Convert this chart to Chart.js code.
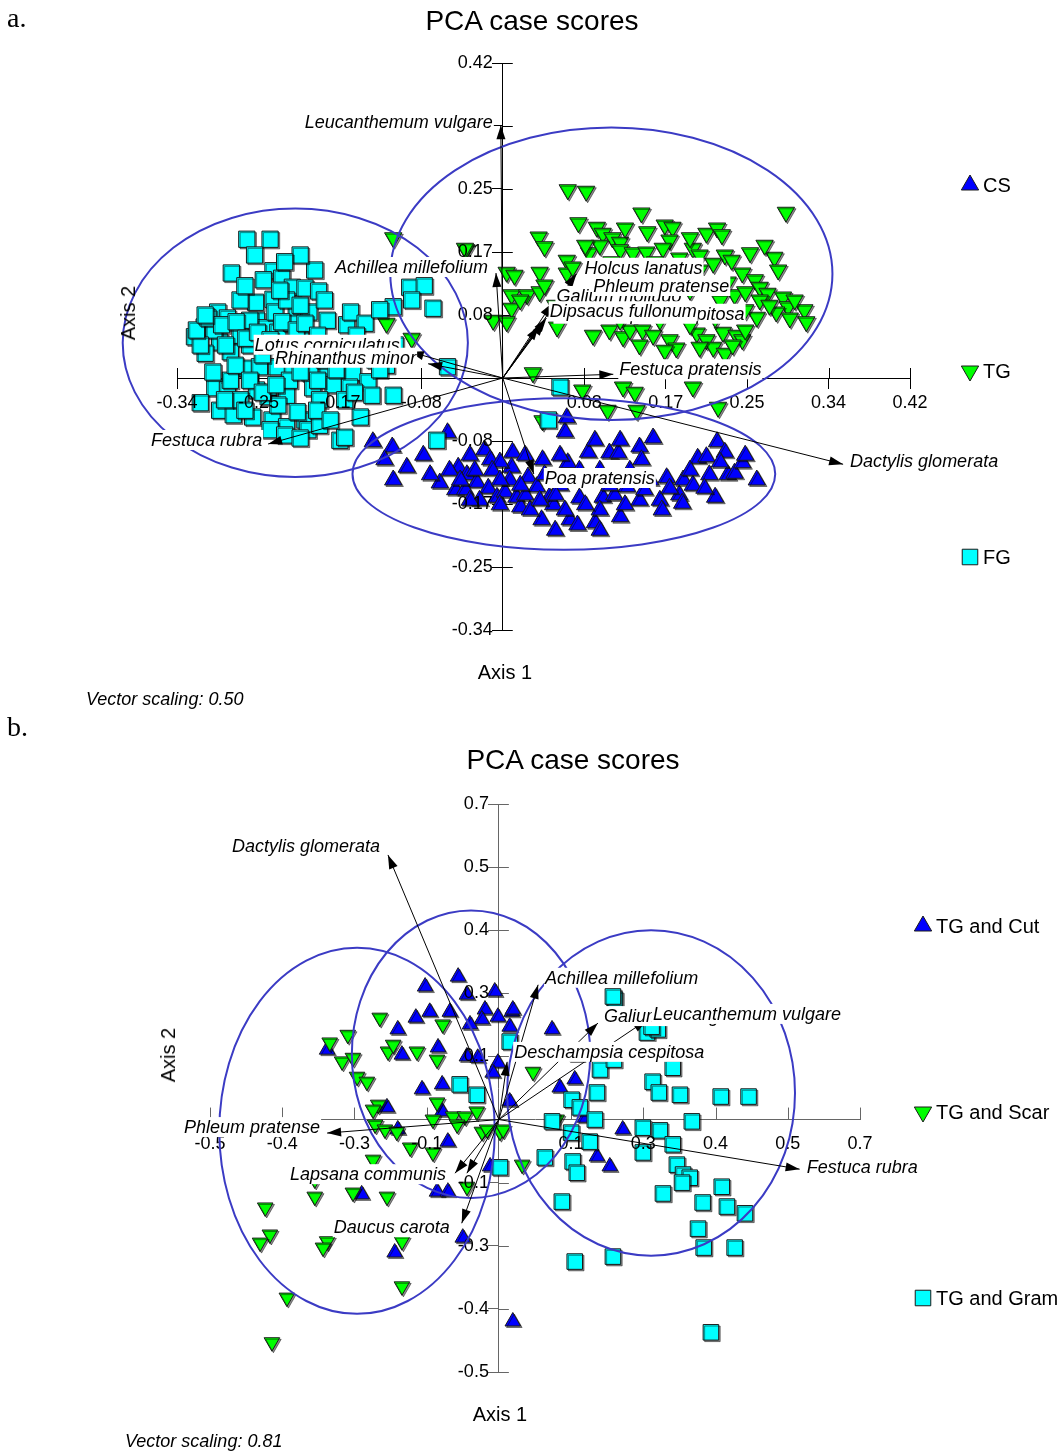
<!DOCTYPE html>
<html>
<head>
<meta charset="utf-8">
<script src="https://cdn.jsdelivr.net/npm/chart.js@4.4.1/dist/chart.umd.min.js"></script>
<style>
  html, body { margin: 0; padding: 0; background: #fff; }
  body { position: relative; width: 1064px; height: 1455px; overflow: hidden; font-family: "Liberation Sans", Arial, sans-serif; color: #000; }
  canvas { position: absolute; left: 0; }
  .txt { position: absolute; white-space: nowrap; line-height: 1; }
  .panel { font-family: "Liberation Serif", "Times New Roman", serif; font-size: 28px; }
  .title { font-size: 28px; text-align: center; }
  .axis { font-size: 20px; }
  .note { font-size: 18px; font-style: italic; }
  .rot { transform: translate(-50%, -50%) rotate(-90deg); }
</style>
</head>
<body>
<canvas id="pcaA" width="1064" height="728" style="top:0"></canvas>
<canvas id="pcaB" width="1064" height="727" style="top:728px"></canvas>

<div class="txt panel" style="left:7px; top:4px;">a.</div>
<div class="txt title" style="left:0; width:1064px; top:7px;">PCA case scores</div>
<div class="txt axis" style="left:455px; width:100px; text-align:center; top:662px;">Axis 1</div>
<div class="txt axis rot" style="left:128px; top:313px;">Axis 2</div>
<div class="txt note" style="left:86px; top:690px;">Vector scaling: 0.50</div>

<div class="txt panel" style="left:7px; top:713px;">b.</div>
<div class="txt title" style="left:373px; width:400px; top:746px;">PCA case scores</div>
<div class="txt axis" style="left:450px; width:100px; text-align:center; top:1404px;">Axis 1</div>
<div class="txt axis rot" style="left:168px; top:1055px;">Axis 2</div>
<div class="txt note" style="left:125px; top:1432px;">Vector scaling: 0.81</div>

<script>
// ---------- Panel a: grassland groups CS / TG / FG ----------
const groupsA = ['CS', 'TG', 'FG'];
const ticksA = [-0.336, -0.252, -0.168, -0.084, 0.084, 0.168, 0.252, 0.336, 0.42];
const tickLabelsA = ['-0.34', '-0.25', '-0.17', '-0.08', '0.08', '0.17', '0.25', '0.34', '0.42'];

const csA = [[-0.134,-0.085],[-0.114,-0.092],[-0.122,-0.109],[-0.099,-0.119],[-0.113,-0.136],[-0.082,-0.103],[-0.065,-0.140],[-0.057,-0.073],[-0.019,-0.096],[-0.013,-0.109],[-0.046,-0.119],[-0.037,-0.129],[-0.027,-0.139],[-0.015,-0.147],[-0.006,-0.159],[0.002,-0.152],[0.010,-0.099],[0.009,-0.119],[0.014,-0.159],[0.018,-0.172],[0.026,-0.132],[0.035,-0.145],[0.041,-0.109],[0.040,-0.189],[0.048,-0.159],[0.052,-0.169],[0.064,-0.072],[0.067,-0.113],[0.069,-0.189],[0.077,-0.196],[0.079,-0.160],[0.088,-0.099],[0.095,-0.193],[0.103,-0.159],[0.110,-0.100],[0.119,-0.100],[0.121,-0.185],[0.128,-0.145],[0.141,-0.092],[0.143,-0.109],[0.155,-0.080],[0.141,-0.163],[0.162,-0.163],[0.164,-0.176],[0.169,-0.133],[0.182,-0.156],[0.185,-0.167],[0.186,-0.136],[0.196,-0.143],[0.201,-0.107],[0.210,-0.105],[0.221,-0.085],[0.229,-0.099],[0.232,-0.129],[0.239,-0.127],[0.247,-0.113],[0.250,-0.103],[0.262,-0.136],[0.219,-0.159],[-0.034,-0.103],[-0.003,-0.112],[-0.024,-0.163],[-0.049,-0.149],[-0.075,-0.129],[-0.039,-0.149],[0.028,-0.176],[0.059,-0.143],[0.090,-0.136],[0.100,-0.123],[0.115,-0.156],[0.152,-0.136],[0.059,-0.103],[0.007,-0.136],[0.023,-0.156],[0.054,-0.203],[0.100,-0.176],[0.131,-0.123],[0.213,-0.129],[-0.003,-0.169],[-0.055,-0.123],[0.066,-0.053],[-0.029,-0.123],[0.038,-0.163],[-0.044,-0.136],[-0.034,-0.163],[-0.011,-0.123],[-0.003,-0.136],[0.018,-0.143],[0.043,-0.129],[0.054,-0.156],[0.064,-0.176],[0.085,-0.169],[0.110,-0.143],[0.126,-0.169],[0.146,-0.149],[0.172,-0.147],[0.193,-0.123],[0.208,-0.147],[0.224,-0.112],[0.079,-0.123],[0.095,-0.083],[0.121,-0.083],[0.023,-0.103],[0.100,-0.203]];

const tgA = [[0.067,0.251],[0.086,0.249],[0.143,0.220],[0.292,0.221],[0.078,0.207],[0.097,0.201],[0.103,0.193],[0.113,0.187],[0.121,0.181],[0.149,0.195],[0.167,0.204],[0.175,0.201],[0.172,0.184],[0.165,0.173],[0.037,0.188],[0.043,0.175],[-0.113,0.187],[-0.038,0.171],[0.004,0.141],[0.038,0.141],[0.066,0.157],[0.089,0.167],[0.121,0.171],[0.134,0.167],[0.148,0.168],[0.196,0.173],[0.210,0.193],[0.221,0.200],[0.226,0.191],[0.255,0.167],[0.280,0.161],[0.229,0.164],[0.236,0.157],[0.217,0.153],[0.247,0.140],[0.260,0.131],[0.265,0.121],[0.273,0.113],[0.284,0.144],[0.289,0.108],[0.294,0.095],[0.311,0.091],[0.313,0.075],[0.282,0.088],[0.262,0.081],[0.250,0.091],[0.066,0.140],[0.072,0.148],[0.009,0.111],[0.025,0.111],[0.038,0.115],[0.009,0.093],[-0.010,0.077],[0.004,0.075],[0.056,0.068],[0.093,0.057],[0.110,0.064],[0.124,0.055],[0.131,0.064],[0.144,0.064],[0.155,0.057],[0.172,0.051],[0.179,0.040],[0.200,0.060],[0.210,0.051],[0.217,0.041],[0.227,0.061],[0.241,0.057],[0.247,0.051],[0.229,0.033],[0.203,0.041],[0.031,0.007],[0.082,-0.016],[0.124,-0.012],[0.136,-0.019],[0.196,-0.012],[0.108,-0.043],[0.138,-0.043],[0.222,-0.039],[-0.120,0.073],[-0.094,0.053],[-0.039,0.173],[0.041,-0.057],[0.193,0.187],[0.203,0.164],[0.239,0.111],[0.224,0.104],[0.265,0.104],[0.193,0.071],[0.162,0.077],[0.121,0.077],[0.100,0.091],[0.152,0.104],[0.193,0.117],[0.270,0.177],[0.296,0.080],[0.237,0.044],[0.219,0.080],[0.054,0.097],[0.043,0.124],[0.100,0.177],[0.112,0.155],[0.157,0.155],[0.182,0.160],[0.203,0.144],[0.232,0.128],[0.250,0.115],[0.275,0.097],[0.301,0.104],[0.141,0.044],[0.167,0.037],[0.250,0.064],[0.018,0.104],[0.012,0.137],[0.126,0.200],[0.085,0.177]];

const fgA = [[-0.264,0.185],[-0.240,0.185],[-0.256,0.164],[-0.280,0.140],[-0.237,0.143],[-0.194,0.144],[-0.247,0.131],[-0.228,0.133],[-0.217,0.121],[-0.204,0.120],[-0.190,0.116],[-0.255,0.101],[-0.237,0.105],[-0.213,0.093],[-0.200,0.088],[-0.294,0.088],[-0.284,0.080],[-0.308,0.068],[-0.318,0.055],[-0.292,0.048],[-0.307,0.033],[-0.281,0.035],[-0.254,0.077],[-0.245,0.067],[-0.232,0.061],[-0.218,0.073],[-0.181,0.077],[-0.161,0.071],[-0.157,0.088],[-0.142,0.073],[-0.096,0.121],[-0.081,0.123],[-0.094,0.104],[-0.113,0.095],[-0.072,0.093],[-0.120,0.017],[-0.057,0.015],[-0.264,0.013],[-0.251,0.015],[-0.233,0.015],[-0.217,0.011],[-0.199,0.007],[-0.181,0.007],[-0.168,0.008],[-0.155,0.007],[-0.139,-0.005],[-0.297,-0.013],[-0.284,-0.016],[-0.254,-0.016],[-0.242,-0.025],[-0.223,-0.023],[-0.196,-0.013],[-0.175,-0.009],[-0.158,-0.012],[-0.113,-0.023],[-0.312,-0.033],[-0.292,-0.043],[-0.278,-0.049],[-0.258,-0.052],[-0.238,-0.056],[-0.223,-0.065],[-0.204,-0.056],[-0.201,-0.069],[-0.147,-0.052],[-0.168,-0.083],[-0.068,-0.083],[-0.298,0.064],[-0.271,0.057],[-0.261,0.044],[-0.248,0.031],[-0.225,0.037],[-0.209,0.051],[-0.199,0.031],[-0.178,0.044],[-0.235,0.088],[-0.271,0.104],[-0.286,0.044],[-0.209,0.164],[-0.225,0.155],[-0.147,0.044],[-0.132,0.024],[-0.111,0.044],[-0.189,-0.029],[-0.271,-0.029],[-0.212,-0.045],[-0.232,-0.036],[-0.240,-0.069],[-0.189,-0.063],[-0.163,-0.029],[-0.281,-0.003],[-0.312,0.044],[-0.245,0.044],[-0.168,0.028],[-0.127,0.011],[-0.220,-0.003],[-0.184,0.024],[-0.261,0.077],[-0.223,0.104],[-0.163,-0.079],[0.059,-0.012],[0.047,-0.056],[-0.316,0.064],[-0.304,0.080],[-0.290,0.071],[-0.275,0.075],[-0.265,0.053],[-0.253,0.061],[-0.240,0.051],[-0.228,0.075],[-0.213,0.064],[-0.204,0.073],[-0.191,0.057],[-0.276,0.017],[-0.261,-0.003],[-0.248,-0.019],[-0.234,-0.009],[-0.209,0.008],[-0.191,-0.003],[-0.172,0.011],[-0.153,-0.019],[-0.135,-0.023],[-0.299,0.008],[-0.287,-0.029],[-0.266,-0.043],[-0.225,-0.076],[-0.209,-0.080],[-0.192,-0.043],[-0.178,-0.056],[-0.307,0.084],[-0.209,0.097],[-0.230,0.117],[-0.266,0.123],[-0.184,0.104],[-0.151,0.057],[-0.127,0.091]];

// group ellipses: centre and semi-axes in score units (CS, TG, FG)
const ellipseCentresA = [[0.063, -0.128], [0.112, 0.139], [-0.214, 0.047]];
const ellipseRadiiA = [[0.218, 0.101], [0.228, 0.195], [0.178, 0.179]];

// species vectors (biplot loadings after scaling)
const speciesA = ['Leucanthemum vulgare', 'Achillea millefolium', 'Deschampsia cespitosa', 'Galium mollugo', 'Phleum pratense', 'Dipsacus fullonum', 'Holcus lanatus', 'Festuca pratensis', 'Dactylis glomerata', 'Poa pratensis', 'Festuca rubra', 'Lotus corniculatus', 'Rhinanthus minor'];
const loadingsA = [[-0.002, 0.337], [-0.007, 0.140], [0.043, 0.075], [0.045, 0.080], [0.051, 0.100], [0.037, 0.069], [0.076, 0.139], [0.114, 0.005], [0.351, -0.115], [0.032, -0.128], [-0.242, -0.088], [-0.096, 0.035], [-0.077, 0.019]];

// ---------- Panel b: TG treatments ----------
const groupsB = ['TG and Cut', 'TG and Scar', 'TG and Gram'];
const ticksB = [-0.56, -0.42, -0.28, -0.14, 0.14, 0.28, 0.42, 0.56, 0.7];
const tickLabelsB = ['-0.5', '-0.4', '-0.3', '-0.1', '0.1', '0.3', '0.4', '0.5', '0.7'];

const cutB = [[-0.079,0.317],[-0.143,0.295],[-0.062,0.277],[-0.008,0.284],[-0.027,0.244],[-0.033,0.222],[-0.002,0.228],[0.025,0.239],[-0.161,0.226],[-0.134,0.239],[-0.095,0.239],[-0.196,0.200],[-0.188,0.144],[-0.118,0.160],[-0.062,0.140],[-0.041,0.137],[-0.002,0.126],[-0.149,0.067],[-0.110,0.078],[-0.217,0.027],[-0.196,-0.022],[-0.099,-0.049],[-0.110,0.018],[-0.017,-0.104],[-0.120,-0.160],[-0.099,-0.160],[-0.266,-0.166],[-0.202,-0.295],[-0.070,-0.262],[0.027,-0.448],[-0.333,0.155],[0.027,0.244],[0.021,0.206],[0.103,0.200],[0.151,0.140],[0.118,0.071],[0.147,0.089],[0.021,0.040],[0.190,-0.082],[0.215,-0.104],[0.240,-0.022],[0.167,0.004],[-0.012,0.104],[-0.056,0.211]];

const scarB = [[-0.231,0.226],[-0.293,0.188],[-0.328,0.171],[-0.304,0.129],[-0.283,0.137],[-0.275,0.095],[-0.256,0.084],[-0.215,0.151],[-0.159,0.151],[-0.205,0.166],[-0.109,0.211],[-0.120,0.133],[-0.234,0.033],[-0.244,0.022],[-0.240,-0.011],[-0.221,-0.022],[-0.172,-0.062],[-0.128,0.000],[-0.120,0.038],[-0.089,0.007],[-0.066,0.007],[-0.043,0.018],[-0.081,-0.011],[-0.033,-0.027],[0.002,-0.027],[-0.128,-0.073],[-0.244,-0.089],[-0.357,-0.133],[-0.357,-0.171],[-0.283,-0.162],[-0.217,-0.171],[-0.453,-0.195],[-0.444,-0.255],[-0.463,-0.273],[-0.333,-0.270],[-0.341,-0.284],[-0.188,-0.270],[-0.188,-0.370],[-0.411,-0.395],[-0.440,-0.494],[-0.062,-0.149],[0.066,0.106],[0.045,-0.100],[0.008,-0.022],[-0.023,-0.022],[-0.198,-0.027],[0.112,0.000]];

const gramB = [[0.225,0.266],[0.287,0.193],[0.308,0.200],[0.337,0.115],[0.196,0.111],[0.298,0.084],[0.310,0.060],[0.351,0.055],[0.430,0.051],[0.484,0.051],[0.190,0.060],[0.141,0.044],[0.157,0.027],[0.103,-0.004],[0.186,0.000],[0.279,-0.018],[0.312,-0.024],[0.374,-0.004],[0.140,-0.029],[0.176,-0.049],[0.337,-0.055],[0.279,-0.073],[0.089,-0.084],[0.143,-0.093],[0.151,-0.118],[0.345,-0.100],[0.357,-0.122],[0.370,-0.129],[0.355,-0.140],[0.432,-0.149],[0.318,-0.164],[0.122,-0.182],[0.395,-0.184],[0.442,-0.193],[0.477,-0.208],[0.386,-0.242],[0.397,-0.284],[0.457,-0.284],[0.147,-0.315],[0.221,-0.304],[0.411,-0.472],[0.021,0.173],[0.002,-0.106],[-0.076,0.078],[-0.043,0.055],[0.221,0.273],[0.296,0.206],[0.223,0.133]];

// group ellipses (Cut, Scar, Gram)
const ellipseCentresB = [[-0.054, 0.145], [-0.275, -0.025], [0.295, 0.059]];
const ellipseRadiiB = [[0.231, 0.319], [0.267, 0.406], [0.279, 0.361]];

const speciesB = ['Dactylis glomerata', 'Achillea millefolium', 'Galium mollugo', 'Leucanthemum vulgare', 'Deschampsia cespitosa', 'Phleum pratense', 'Festuca rubra', '', 'Lapsana communis', 'Daucus carota'];
const loadingsB = [[-0.215, 0.587], [0.076, 0.299], [0.192, 0.214], [0.287, 0.221], [0.016, 0.128], [-0.333, -0.030], [0.583, -0.110], [-0.062, -0.119], [-0.085, -0.119], [-0.072, -0.230]];

// ---------- presentation ----------
const COLORS = { blue: '#0000ff', green: '#00ff00', cyan: '#00ffff', ring: '#3b3bc4' };
const FONT = '"Liberation Sans", Arial, sans-serif';

// label anchor relative to the arrow tip: [align, dx px, dy px]
const labelPlaceA = [['right', -8, -3], ['right', -8, -6], ['left', 10, -8], ['left', 10, -22], ['left', 41, -17], ['left', 11, -15], ['left', 8, -6], ['left', 6, -5], ['left', 7, -3], ['left', 11, 4], ['right', -6, -4], ['right', -10, -7], ['right', -12, -6]];
const labelPlaceB = [['right', -8, -9], ['left', 7, -7], ['left', 6, -7], ['left', 6, -6], ['left', 7, -10], ['right', -7, -6], ['left', 7, -2], ['left', 0, 0], ['right', -9, 1], ['right', -12, 4]];

// legend entries: marker centre in canvas px
const legendPlaceA = [[970, 185], [970, 371], [970, 557]];
const legendPlaceB = [[923, 198], [923, 384], [923, 570]];

function toXY(arr) { return arr.map(p => ({ x: p[0], y: p[1] })); }

function drawMarker(ctx, style, rotation, r, x, y, fill) {
  ctx.save();
  ctx.fillStyle = fill; ctx.strokeStyle = '#1a1a1a'; ctx.lineWidth = 1;
  Chart.helpers.drawPoint(ctx, { pointStyle: style, rotation: rotation, radius: r, borderWidth: 1 }, x, y);
  ctx.restore();
}

function arrow(ctx, x0, y0, x1, y1) {
  const len = 14, hw = 4.5;
  const a = Math.atan2(y1 - y0, x1 - x0);
  ctx.beginPath(); ctx.moveTo(x0, y0); ctx.lineTo(x1, y1); ctx.stroke();
  ctx.beginPath();
  ctx.moveTo(x1, y1);
  ctx.lineTo(x1 - len * Math.cos(a) + hw * Math.sin(a), y1 - len * Math.sin(a) - hw * Math.cos(a));
  ctx.lineTo(x1 - len * Math.cos(a) - hw * Math.sin(a), y1 - len * Math.sin(a) + hw * Math.cos(a));
  ctx.closePath(); ctx.fill();
}

function overlay(cfg) {
  return {
    id: 'pcaOverlay',
    beforeDatasetsDraw(chart) {
      const ctx = chart.ctx, sx = chart.scales.x, sy = chart.scales.y;
      const ox = sx.getPixelForValue(0), oy = sy.getPixelForValue(0);
      // inner halves of the tick marks, under the markers
      ctx.save();
      ctx.strokeStyle = cfg.axisColor; ctx.lineWidth = 1;
      ctx.beginPath();
      cfg.ticks.forEach(v => {
        const px = Math.round(sx.getPixelForValue(v)) + 0.5;
        ctx.moveTo(px, oy); ctx.lineTo(px, oy - cfg.innerTickX);
        const py = Math.round(sy.getPixelForValue(v)) + 0.5;
        ctx.moveTo(ox, py); ctx.lineTo(ox + cfg.innerTickY, py);
      });
      ctx.stroke();
      ctx.restore();
      // soft drop shadow under the case markers
      ctx.save();
      ctx.shadowColor = 'rgba(0,0,0,0.45)';
      ctx.shadowOffsetX = 1.5; ctx.shadowOffsetY = 1.5; ctx.shadowBlur = 0;
    },
    afterDatasetsDraw(chart) { chart.ctx.restore(); },
    afterDraw(chart) {
      const ctx = chart.ctx, sx = chart.scales.x, sy = chart.scales.y;
      const ox = sx.getPixelForValue(0), oy = sy.getPixelForValue(0);
      ctx.save();
      // group ellipses
      ctx.strokeStyle = COLORS.ring; ctx.lineWidth = 2;
      cfg.centres.forEach((c, i) => {
        const cx = sx.getPixelForValue(c[0]), cy = sy.getPixelForValue(c[1]);
        const rx = Math.abs(sx.getPixelForValue(c[0] + cfg.radii[i][0]) - cx);
        const ry = Math.abs(sy.getPixelForValue(c[1] + cfg.radii[i][1]) - cy);
        ctx.beginPath(); ctx.ellipse(cx, cy, rx, ry, 0, 0, Math.PI * 2); ctx.stroke();
      });
      // species vectors
      ctx.strokeStyle = '#000'; ctx.fillStyle = '#000'; ctx.lineWidth = 1;
      const tips = cfg.loadings.map(l => [sx.getPixelForValue(l[0]), sy.getPixelForValue(l[1])]);
      tips.forEach(t => arrow(ctx, ox, oy, t[0], t[1]));
      // species labels on white boxes
      ctx.font = 'italic 18px ' + FONT;
      ctx.textBaseline = 'middle';
      cfg.species.forEach((name, i) => {
        if (!name) return;
        const [align, dx, dy] = cfg.place[i];
        const w = ctx.measureText(name).width;
        let x = tips[i][0] + dx; const y = tips[i][1] + dy;
        if (align === 'right') x -= w;
        ctx.fillStyle = '#fff'; ctx.fillRect(x - 1, y - 10, w + 2, 20);
        ctx.fillStyle = '#000'; ctx.textAlign = 'left'; ctx.fillText(name, x, y + 1);
      });
      // legend
      ctx.font = '20px ' + FONT;
      chart.data.datasets.forEach((ds, i) => {
        const [lx, ly] = cfg.legend[i];
        drawMarker(ctx, ds.pointStyle, ds.pointRotation, cfg.legendRadius[i], lx, ly, ds.backgroundColor);
        ctx.fillStyle = '#000'; ctx.textAlign = 'left'; ctx.textBaseline = 'middle';
        ctx.fillText(ds.label, lx + 13, ly + 1);
      });
      ctx.restore();
    }
  };
}

// centred axis: line and tick marks under the markers, tick labels above them;
// y labels get a trailing gap so they clear the tick marks
function axisOpts(min, max, ticks, labels, pos, color, tickColor, pad, gap) {
  return {
    type: 'linear', min: min, max: max, position: pos,
    afterBuildTicks: s => { s.ticks = ticks.map(v => ({ value: v })); },
    ticks: { z: 1, autoSkip: false, maxRotation: 0, padding: pad, color: '#000', font: { family: FONT, size: 18 },
             callback: (v, i) => labels[i] + gap },
    grid: { z: -1, drawOnChartArea: false, drawTicks: true, tickLength: 10, color: color, tickColor: tickColor },
    border: { z: 0, display: true, color: color, width: 1 }
  };
}

function dataset(label, pts, style, rot, r, color, order) {
  return { label: label, data: toXY(pts), pointStyle: style, pointRotation: rot, pointRadius: r, pointHoverRadius: r,
           backgroundColor: color, borderColor: '#1a1a1a', borderWidth: 1, clip: false, order: order };
}

const common = { responsive: false, animation: false, events: [],
  plugins: { legend: { display: false }, tooltip: { enabled: false }, title: { display: false } } };

new Chart(document.getElementById('pcaA'), {
  type: 'scatter',
  data: { datasets: [
    dataset(groupsA[0], csA, 'triangle', 0, 10, COLORS.blue, 1),
    dataset(groupsA[1], tgA, 'triangle', 180, 10, COLORS.green, 2),
    dataset(groupsA[2], fgA, 'rect', 0, 11.5, COLORS.cyan, 0)
  ] },
  options: Object.assign({}, common, {
    layout: { padding: { left: 177, right: 154, top: 63, bottom: 98 } },
    scales: {
      x: axisOpts(-0.336, 0.42, ticksA, tickLabelsA, { y: 0 }, '#000', '#000', 4, ''),
      y: axisOpts(-0.336, 0.42, ticksA, tickLabelsA, { x: 0 }, '#000', '#000', 0, '  ')
    }
  }),
  plugins: [overlay({ ticks: ticksA, innerTickX: 10, innerTickY: 10, axisColor: '#000',
    centres: ellipseCentresA, radii: ellipseRadiiA, loadings: loadingsA, species: speciesA, place: labelPlaceA,
    legend: legendPlaceA, legendRadius: [10, 10, 11] })]
});

new Chart(document.getElementById('pcaB'), {
  type: 'scatter',
  data: { datasets: [
    dataset(groupsB[0], cutB, 'triangle', 0, 9, COLORS.blue, 2),
    dataset(groupsB[1], scarB, 'triangle', 180, 9, COLORS.green, 1),
    dataset(groupsB[2], gramB, 'rect', 0, 11, COLORS.cyan, 0)
  ] },
  options: Object.assign({}, common, {
    layout: { padding: { left: 210, right: 204, top: 76, bottom: 83 } },
    scales: {
      x: axisOpts(-0.56, 0.7, ticksB, tickLabelsB, { y: 0 }, '#666', 'rgba(0,0,0,0)', 4, ''),
      y: axisOpts(-0.56, 0.7, ticksB, tickLabelsB, { x: 0 }, '#666', '#666', 0, '  ')
    }
  }),
  plugins: [overlay({ ticks: ticksB, innerTickX: 12, innerTickY: 10, axisColor: '#666',
    centres: ellipseCentresB, radii: ellipseRadiiB, loadings: loadingsB, species: speciesB, place: labelPlaceB,
    legend: legendPlaceB, legendRadius: [10, 10, 11] })]
});
</script>
</body>
</html>
